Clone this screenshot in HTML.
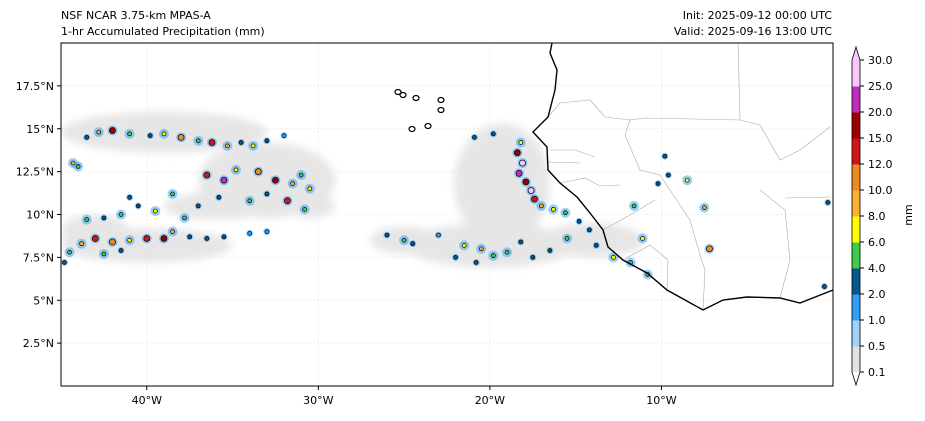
<!DOCTYPE html>
<html><head><meta charset="utf-8">
<style>
body{margin:0;background:#fff;width:925px;height:416px;overflow:hidden;font-family:"Liberation Sans","DejaVu Sans",sans-serif}
svg text{font-family:"DejaVu Sans","Liberation Sans",sans-serif;font-size:11px;fill:#000}
</style></head><body>
<svg id="c" width="925" height="416">
<defs>
<clipPath id="mapclip"><rect x="61" y="43" width="772" height="343"/></clipPath>
<filter id="blur"><feGaussianBlur stdDeviation="4"/></filter>
</defs>
<text x="61" y="19">NSF NCAR 3.75-km MPAS-A</text>
<text x="61" y="35">1-hr Accumulated Precipitation (mm)</text>
<text x="832" y="19" text-anchor="end">Init: 2025-09-12 00:00 UTC</text>
<text x="832" y="35" text-anchor="end">Valid: 2025-09-16 13:00 UTC</text>
<g id="map" clip-path="url(#mapclip)"></g>
<rect x="61" y="43" width="772" height="343" fill="none" stroke="#000" stroke-width="1"/>
<g id="axes"></g>
<g id="cbar"></g>
<text x="0" y="0" transform="translate(912,215) rotate(-90)" text-anchor="middle">mm</text>
</svg>
<script>
const lonTicks=[-40,-30,-20,-10];
const lonLabels=["40°W","30°W","20°W","10°W"];
const latTicks=[2.5,5,7.5,10,12.5,15,17.5];
const latLabels=["2.5°N","5°N","7.5°N","10°N","12.5°N","15°N","17.5°N"];
const levels=[0.1,0.5,1.0,2.0,4.0,6.0,8.0,10.0,12.0,15.0,20.0,25.0,30.0];
const levelColors=["#e2e2e2","#a2d2f8","#30a0f6","#06578c","#3ecc4c","#ffff00","#f8b030","#ee8a22","#d01616","#9e0000","#c02cc0","#fbc6fb"];
const cloudLon=[-39,-33,-40,-43,-19.3,-20,-25,-14,-36,-30.5];
const cloudLat=[14.8,12.0,8.2,9.0,11.8,8.2,8.5,8.5,10.5,10.5];
const cloudRx=[6,4,5,2,2.8,5,2,3,3,1.5];
const cloudRy=[1.2,2.2,1.0,1.0,3.5,1.3,0.8,1.0,0.8,0.7];
const cellLon=[-43.5,-42.8,-42,-41,-39.8,-39,-38,-37,-36.2,-35.3,-34.5,-33.8,-33,-32,-44.3,-44,
-36.5,-35.5,-34.8,-33.5,-32.5,-31.5,-31,-30.5,-33,-31.8,-30.8,-34,-35.8,-37,-38.5,-39.5,-40.5,-41.5,-42.5,-43.5,-41,-37.8,
-44.5,-43.8,-43,-42,-41,-40,-39,-38.5,-37.5,-36.5,-35.5,-34,-33,-44.8,-42.5,-41.5,
-26,-25,-24.5,-23,-21.5,-20.5,-19.8,-20.8,-19,-18.2,-17.5,-16.5,-15.5,-22,
-18.2,-18.4,-18.1,-18.3,-17.9,-17.6,-17.4,-17.0,-16.3,-15.6,-14.8,-14.2,-13.8,-12.8,-11.8,-10.8,-19.8,
-9.8,-9.6,-8.5,-7.5,-11.6,-7.2,-11.1,-0.3,-0.5,-10.2,-20.9];
const cellLat=[14.5,14.8,14.9,14.7,14.6,14.7,14.5,14.3,14.2,14.0,14.2,14.0,14.3,14.6,13.0,12.8,
12.3,12.0,12.6,12.5,12.0,11.8,12.3,11.5,11.2,10.8,10.3,10.8,11,10.5,11.2,10.2,10.5,10.0,9.8,9.7,11.0,9.8,
7.8,8.3,8.6,8.4,8.5,8.6,8.6,9.0,8.7,8.6,8.7,8.9,9.0,7.2,7.7,7.9,
8.8,8.5,8.3,8.8,8.2,8.0,7.6,7.2,7.8,8.4,7.5,7.9,8.6,7.5,
14.2,13.6,13.0,12.4,11.9,11.4,10.9,10.5,10.3,10.1,9.6,9.1,8.2,7.5,7.2,6.5,14.7,
13.4,12.3,12.0,10.4,10.5,8.0,8.6,10.7,5.8,11.8,14.5];
const cellVal=[3,8,15,5,2,6,10,4,12,8,3,6,2,1,8,4,
12,20,6,10,15,8,4,6,3,12,5,4,3,2,4,6,3,5,2,4,2,5,
4,8,12,10,6,12,15,8,3,2,2,1,1,3,4,2,
2,4,3,1,6,8,4,3,5,2,3,2,4,2,
6,15,25,20,15,25,12,8,6,4,3,2,3,6,4,5,2,
3,2,6,8,5,10,6,2,2,2,2];
const coast=[[552,43],[550,53],[557,70],[555,90],[548,117],[533,132],[547,147],[548,170],[560,183],[577,197],[590,213],[603,230],[608,247],[623,260],[647,273],[667,290],[703,310],[723,300],[747,297],[780,298],[800,303],[833,290]];
const borders=[
[[548,117],[560,103],[590,100],[605,117],[630,120],[645,118],[740,120],[738,43]],
[[550,150],[575,150],[595,157]],[[547,162],[580,163]],
[[560,183],[585,178],[600,186],[620,185]],
[[630,120],[625,135],[640,170],[660,175]],
[[740,120],[760,125],[780,160],[800,150],[830,127]],
[[660,175],[690,220],[700,255],[705,270],[703,310]],
[[760,190],[785,210],[790,260],[780,298]],
[[785,198],[830,197]],[[603,230],[630,215],[655,200]],[[623,260],[650,245],[668,260],[667,290]]];
const islands=[[403,95],[416,98],[441,100],[441,110],[428,126],[412,129],[398,92]];

const X0=61,X1=833,Y0=43,Y1=386,LON0=-45,LON1=0,LAT0=0,LAT1=20;
const xs=lon=>X0+(lon-LON0)/(LON1-LON0)*(X1-X0);
const ys=lat=>Y1-(lat-LAT0)/(LAT1-LAT0)*(Y1-Y0);
const NS="http://www.w3.org/2000/svg";
function mk(tag,parent){const e=document.createElementNS(NS,tag);parent.appendChild(e);return e;}
function colorFor(v){for(let i=levels.length-2;i>=0;i--){if(v>=levels[i])return levelColors[i];}return "#fff";}
const mapG=document.getElementById('map'),axesG=document.getElementById('axes'),cbG=document.getElementById('cbar');
lonTicks.forEach((l,i)=>{const g=mk('line',mapG);g.setAttribute('x1',xs(l));g.setAttribute('x2',xs(l));g.setAttribute('y1',Y0);g.setAttribute('y2',Y1);g.setAttribute('stroke','#eeeeee');g.setAttribute('stroke-dasharray','2,2');


const t=mk('line',axesG);t.setAttribute('x1',xs(l));t.setAttribute('x2',xs(l));t.setAttribute('y1',Y1);t.setAttribute('y2',Y1+4);t.setAttribute('stroke','#000');


const tx=mk('text',axesG);tx.setAttribute('x',xs(l));tx.setAttribute('y',Y1+18);tx.setAttribute('text-anchor','middle');tx.textContent=lonLabels[i];

});
latTicks.forEach((l,i)=>{const g=mk('line',mapG);g.setAttribute('x1',X0);g.setAttribute('x2',X1);g.setAttribute('y1',ys(l));g.setAttribute('y2',ys(l));g.setAttribute('stroke','#eeeeee');g.setAttribute('stroke-dasharray','2,2');


const t=mk('line',axesG);t.setAttribute('x1',X0-4);t.setAttribute('x2',X0);t.setAttribute('y1',ys(l));t.setAttribute('y2',ys(l));t.setAttribute('stroke','#000');


const tx=mk('text',axesG);tx.setAttribute('x',X0-7);tx.setAttribute('y',ys(l)+4);tx.setAttribute('text-anchor','end');tx.textContent=latLabels[i];

});
const cg=mk('g',mapG);cg.setAttribute('filter','url(#blur)');cg.setAttribute('opacity','0.85');
cloudLon.forEach((l,i)=>{const e=mk('ellipse',cg);e.setAttribute('cx',xs(l));e.setAttribute('cy',ys(cloudLat[i]));
e.setAttribute('rx',xs(l+cloudRx[i])-xs(l));e.setAttribute('ry',ys(cloudLat[i])-ys(cloudLat[i]+cloudRy[i]));e.setAttribute('fill','#e2e2e2');

});
borders.forEach(b=>{const p=mk('polyline',mapG);p.setAttribute('points',b.map(q=>q.join(',')).join(' '));p.setAttribute('fill','none');p.setAttribute('stroke','#aaa');p.setAttribute('stroke-width','0.6');

});
cellLon.forEach((l,i)=>{const v=cellVal[i];const cx=xs(l),cy=ys(cellLat[i]);
const halo=mk('circle',mapG);halo.setAttribute('cx',cx);halo.setAttribute('cy',cy);halo.setAttribute('r',v>=4?5:3.5);halo.setAttribute('fill','#30a0f6');halo.setAttribute('opacity','0.5');


const c=mk('circle',mapG);c.setAttribute('cx',cx);c.setAttribute('cy',cy);c.setAttribute('r',v>=10?3:2);c.setAttribute('fill',colorFor(v));c.setAttribute('stroke','#000');c.setAttribute('stroke-width','0.7');

});
const cp=mk('polyline',mapG);cp.setAttribute('points',coast.map(q=>q.join(',')).join(' '));cp.setAttribute('fill','none');cp.setAttribute('stroke','#000');cp.setAttribute('stroke-width','1.4');


islands.forEach(q=>{const e=mk('ellipse',mapG);e.setAttribute('cx',q[0]);e.setAttribute('cy',q[1]);e.setAttribute('rx',3);e.setAttribute('ry',2.5);e.setAttribute('fill','none');e.setAttribute('stroke','#000');e.setAttribute('stroke-width','1.2');

});
const CB0=372,CBstep=26,CBx=852,CBw=8;
for(let i=0;i<levelColors.length;i++){const r=mk('rect',cbG);r.setAttribute('x',CBx);r.setAttribute('y',CB0-(i+1)*CBstep);r.setAttribute('width',CBw);r.setAttribute('height',CBstep+0.5);r.setAttribute('fill',levelColors[i]);

}
const cbTop=CB0-levelColors.length*CBstep;
const tt=mk('polygon',cbG);tt.setAttribute('points',`${CBx},${cbTop} ${CBx+CBw},${cbTop} ${CBx+CBw/2},${cbTop-13}`);tt.setAttribute('fill',levelColors[levelColors.length-1]);


const bt=mk('polygon',cbG);bt.setAttribute('points',`${CBx},${CB0} ${CBx+CBw},${CB0} ${CBx+CBw/2},${CB0+13}`);bt.setAttribute('fill','#fff');


const ol=mk('polygon',cbG);ol.setAttribute('points',`${CBx},${cbTop} ${CBx+CBw/2},${cbTop-13} ${CBx+CBw},${cbTop} ${CBx+CBw},${CB0} ${CBx+CBw/2},${CB0+13} ${CBx},${CB0}`);ol.setAttribute('fill','none');ol.setAttribute('stroke','#000');ol.setAttribute('stroke-width','0.8');


levels.forEach((v,i)=>{const y=CB0-i*CBstep;const t=mk('line',cbG);t.setAttribute('x1',CBx+CBw);t.setAttribute('x2',CBx+CBw+4);t.setAttribute('y1',y);t.setAttribute('y2',y);t.setAttribute('stroke','#000');


const tx=mk('text',cbG);tx.setAttribute('x',CBx+CBw+8);tx.setAttribute('y',y+4);tx.textContent=v.toFixed(1);

});
</script>
</body></html>
